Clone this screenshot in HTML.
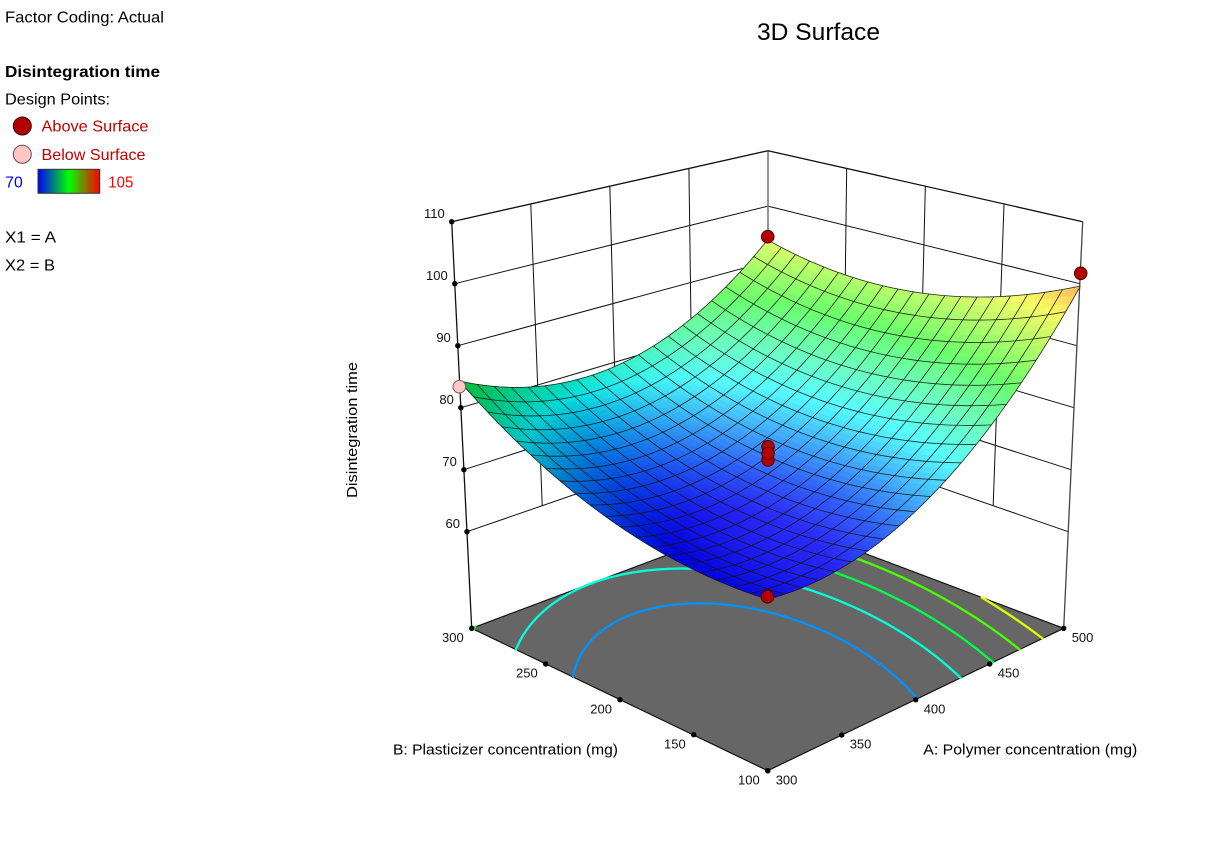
<!DOCTYPE html>
<html><head><meta charset="utf-8">
<style>
html,body{margin:0;padding:0;background:#fff;width:1228px;height:864px;overflow:hidden;}
svg{display:block;font-family:"Liberation Sans",Arial,sans-serif;}
</style></head><body>
<svg id="c" width="1228" height="864" viewBox="0 0 1228 864" xmlns="http://www.w3.org/2000/svg">
<defs>
<linearGradient id="lg" x1="0" y1="0" x2="1" y2="0">
<stop offset="0" stop-color="#0000ff"/><stop offset="0.5" stop-color="#00ff00"/><stop offset="1" stop-color="#ff0000"/>
</linearGradient>
</defs>
<rect width="1228" height="864" fill="#fff"/>
<text x="5" y="22.3" font-size="16" textLength="159" lengthAdjust="spacingAndGlyphs">Factor Coding: Actual</text>
<text x="5" y="77" font-size="16" font-weight="bold" textLength="155" lengthAdjust="spacingAndGlyphs">Disintegration time</text>
<text x="5" y="104.3" font-size="16" textLength="105" lengthAdjust="spacingAndGlyphs">Design Points:</text>
<circle cx="22.3" cy="126" r="9" fill="#b00000" stroke="#3a0000" stroke-width="1"/>
<text x="41.5" y="131.7" font-size="16" fill="#c00000" textLength="107" lengthAdjust="spacingAndGlyphs">Above Surface</text>
<circle cx="22.3" cy="154.3" r="9" fill="#ffc6c6" stroke="#6b4b4b" stroke-width="1"/>
<text x="41.5" y="160" font-size="16" fill="#c00000" textLength="104" lengthAdjust="spacingAndGlyphs">Below Surface</text>
<text x="5.3" y="187.3" font-size="16" fill="#0000ff" textLength="17.5" lengthAdjust="spacingAndGlyphs">70</text>
<rect x="38" y="169.3" width="61.7" height="24" fill="url(#lg)" stroke="#333" stroke-width="1"/>
<text x="108.3" y="187.3" font-size="16" fill="#ff0000" textLength="25" lengthAdjust="spacingAndGlyphs">105</text>
<text x="5" y="242.7" font-size="16" textLength="51" lengthAdjust="spacingAndGlyphs">X1 = A</text>
<text x="5" y="270.7" font-size="16" textLength="50" lengthAdjust="spacingAndGlyphs">X2 = B</text>

<text x="757" y="40" font-size="24" textLength="123" lengthAdjust="spacingAndGlyphs">3D Surface</text>
<text transform="translate(357,430) rotate(-90)" x="0" y="0" font-size="14.5" text-anchor="middle" textLength="136" lengthAdjust="spacingAndGlyphs">Disintegration time</text>
<text x="393" y="754.5" font-size="14.5" textLength="225" lengthAdjust="spacingAndGlyphs">B: Plasticizer concentration (mg)</text>
<text x="923.3" y="754.5" font-size="14.5" textLength="214" lengthAdjust="spacingAndGlyphs">A: Polymer concentration (mg)</text>

<g id="gWalls"></g>
<g id="gFloor"></g>
<g id="gCont"></g>
<g id="gSurf"></g>
<g id="gMesh"></g>
<g id="gAxes"></g>
<g id="gLab" font-size="13"></g>
<g id="gPts"></g>
</svg>
<script>
(function(){
var NS="http://www.w3.org/2000/svg";
function G(id){return document.getElementById(id);}
function el(tag,attrs,parent){var e=document.createElementNS(NS,tag);for(var k in attrs)e.setAttribute(k,attrs[k]);parent.appendChild(e);return e;}
function P(a,b,z){var s=(a-b)/2,t=(a+b)/2,Z=(z-44.4)/65.6;var d=1+0.1224*t-0.0632*Z;return [767.6+296*s/d,628.3-(125*t+380.9*Z)/d,d];}
function f(a,b){return 73.2+9.85*a+2.41*b-5.15*a*b+9.4*a*a+5.0*b*b;}
function hsv(h){h=((h%360)+360)%360;var x=1-Math.abs((h/60)%2-1),r,g,b;
 if(h<60){r=1;g=x;b=0}else if(h<120){r=x;g=1;b=0}else if(h<180){r=0;g=1;b=x}else if(h<240){r=0;g=x;b=1}else{r=x;g=0;b=1}
 return [r*255,g*255,b*255];}
function cmap(z){var t=(z-70)/35;t=Math.max(0,Math.min(1,t));return hsv(240*(1-t));}
function rgb(c){return "rgb("+Math.round(c[0])+","+Math.round(c[1])+","+Math.round(c[2])+")";}
function cl(v,a,b){return Math.max(a,Math.min(b,v));}
function pt(p){return p[0].toFixed(2)+","+p[1].toFixed(2);}

/* ---------- walls ---------- */
var gW=G("gWalls");
function yL(z){return 531.7-6.2*(z-60);}
function xL(z){return 471.7-(628.3-yL(z))*20/406.6;}
function xR(z){return 1063.7+(628.3-yL(z))*19/406.6;}
function yB(z){return 150.7+5.54*(110-z);}
var z;
for(z=60;z<=100;z+=10){
 el("line",{x1:xL(z),y1:yL(z),x2:768,y2:yB(z),stroke:"#111","stroke-width":1},gW);
 el("line",{x1:768,y1:yB(z),x2:xR(z),y2:yL(z),stroke:"#111","stroke-width":1},gW);
}
[0.25,0.5,0.75].forEach(function(fr){
 var tx=xL(110)+(768-xL(110))*fr, ty=yL(110)+(yB(110)-yL(110))*fr;
 var bx=xL(60)+(768-xL(60))*fr, by=yL(60)+(yB(60)-yL(60))*fr;
 el("line",{x1:tx,y1:ty,x2:bx,y2:by,stroke:"#111","stroke-width":1},gW);
 tx=768+(xR(110)-768)*fr; ty=yB(110)+(yL(110)-yB(110))*fr;
 bx=768+(xR(60)-768)*fr; by=yB(60)+(yL(60)-yB(60))*fr;
 el("line",{x1:tx,y1:ty,x2:bx,y2:by,stroke:"#111","stroke-width":1},gW);
});
el("line",{x1:768,y1:150.7,x2:768,y2:517,stroke:"#808080","stroke-width":1.7},gW);
el("line",{x1:451.7,y1:221.7,x2:768,y2:150.7,stroke:"#111","stroke-width":1.3},gW);
el("line",{x1:768,y1:150.7,x2:1082.7,y2:221.7,stroke:"#111","stroke-width":1.3},gW);

/* ---------- floor ---------- */
var gF=G("gFloor");
el("polygon",{points:"471.7,628.3 767.7,770.7 1063.7,628.3 768,517",fill:"#666666",stroke:"#111","stroke-width":1.2,"stroke-linejoin":"round"},gF);

/* ---------- contours ---------- */
var gC=G("gCont");
var M=140;
function fp(a,b){return pt(P(a,b,44.4));}
[75,80,85,90,95].forEach(function(L){
 var d="",i,j,k;
 for(i=0;i<M;i++)for(j=0;j<M;j++){
  var a0=-1+2*i/M,a1=-1+2*(i+1)/M,b0=-1+2*j/M,b1=-1+2*(j+1)/M;
  var v=[f(a0,b0)-L,f(a1,b0)-L,f(a1,b1)-L,f(a0,b1)-L];
  var c=[[a0,b0],[a1,b0],[a1,b1],[a0,b1]];
  var ps=[];
  for(k=0;k<4;k++){var k2=(k+1)%4;if((v[k]<0)!==(v[k2]<0)){var t=v[k]/(v[k]-v[k2]);ps.push([c[k][0]+t*(c[k2][0]-c[k][0]),c[k][1]+t*(c[k2][1]-c[k][1])]);}}
  if(ps.length===2)d+="M"+fp(ps[0][0],ps[0][1])+"L"+fp(ps[1][0],ps[1][1]);
  else if(ps.length===4)d+="M"+fp(ps[0][0],ps[0][1])+"L"+fp(ps[1][0],ps[1][1])+"M"+fp(ps[2][0],ps[2][1])+"L"+fp(ps[3][0],ps[3][1]);
 }
 if(d)el("path",{d:d,stroke:rgb(cmap(L)),"stroke-width":2.3,fill:"none","stroke-linecap":"round"},gC);
});

/* ---------- surface ---------- */
var gS=G("gSurf");
var Lx=-0.5,Ly=0,Lz=0.85,Ll=Math.sqrt(Lx*Lx+Ly*Ly+Lz*Lz);Lx/=Ll;Ly/=Ll;Lz/=Ll;
function color(a,b){
 var zz=f(a,b);var fa=9.85-5.15*b+18.8*a,fb=2.41-5.15*a+10*b;
 var nx=-fa/32.8,ny=-fb/32.8,nz=1,nl=Math.sqrt(nx*nx+ny*ny+nz*nz);
 var diff=(nx*Lx+ny*Ly+nz*Lz)/nl;
 var kk=0.72+0.28*cl((diff-0.5)/0.5,0,1);
 var w=cl((diff-0.75)*2,0,0.42);
 w*=0.45+0.55*cl((zz-72)/10,0,1);
 var base=cmap(zz);
 return [base[0]*kk*(1-w)+255*w,base[1]*kk*(1-w)+255*w,base[2]*kk*(1-w)+255*w];
}
var N=20,S=3,T=N*S,quads=[],i,j;
for(i=0;i<T;i++)for(j=0;j<T;j++){
 var a0=-1+2*i/T,a1=-1+2*(i+1)/T,b0=-1+2*j/T,b1=-1+2*(j+1)/T;
 var p1=P(a0,b0,f(a0,b0)),p2=P(a1,b0,f(a1,b0)),p3=P(a1,b1,f(a1,b1)),p4=P(a0,b1,f(a0,b1));
 var col=rgb(color((a0+a1)/2,(b0+b1)/2));
 quads.push({d:(p1[2]+p2[2]+p3[2]+p4[2])/4,pts:pt(p1)+" "+pt(p2)+" "+pt(p3)+" "+pt(p4),c:col});
}
quads.sort(function(p,q){return q.d-p.d;});
quads.forEach(function(q){el("polygon",{points:q.pts,fill:q.c,stroke:q.c,"stroke-width":0.6,"stroke-linejoin":"round"},gS);});

/* ---------- mesh ---------- */
var gM=G("gMesh");
var STEPS=60;
for(i=0;i<=N;i++){
 var a=-1+2*i/N,s1=[],s2=[];
 for(j=0;j<=STEPS;j++){var b=-1+2*j/STEPS;s1.push(pt(P(a,b,f(a,b))));s2.push(pt(P(b,a,f(b,a))));}
 el("polyline",{points:s1.join(" "),fill:"none",stroke:"#151515","stroke-width":0.8,"stroke-opacity":0.9},gM);
 el("polyline",{points:s2.join(" "),fill:"none",stroke:"#151515","stroke-width":0.8,"stroke-opacity":0.9},gM);
}

/* ---------- axes ---------- */
var gA=G("gAxes"),gL=G("gLab");
el("line",{x1:471.7,y1:628.3,x2:451.7,y2:221.7,stroke:"#111","stroke-width":1.3},gA);
el("line",{x1:1063.7,y1:628.3,x2:1082.7,y2:221.7,stroke:"#444","stroke-width":1.3},gA);
function dot(x,y){el("circle",{cx:x,cy:y,r:2.7,fill:"#000"},gA);}
function lab(x,y,txt,anchor){var t=el("text",{x:x,y:y,"text-anchor":anchor,fill:"#111"},gL);t.textContent=txt;}
for(z=60;z<=110;z+=10){dot(xL(z),yL(z));lab(xL(z)-7,yL(z)-3.8,String(z),"end");}
var Bt=[[471.7,628.3,"300"],[545.7,664,"250"],[620,699.7,"200"],[693.7,734.7,"150"],[767.7,770.7,"100"]];
Bt.forEach(function(q){dot(q[0],q[1]);lab(q[0]-8,q[1]+13.7,q[2],"end");});
var At=[[767.7,770.7,"300"],[841.7,735,"350"],[915.7,699.7,"400"],[989.7,664,"450"],[1063.7,628.3,"500"]];
At.forEach(function(q){dot(q[0],q[1]);lab(q[0]+8,q[1]+13.7,q[2],"start");});

/* ---------- design points ---------- */
var gP=G("gPts");
function rp(x,y){el("circle",{cx:x,cy:y,r:6.3,fill:"#b30000",stroke:"#4a0000","stroke-width":1},gP);}
el("circle",{cx:459.3,cy:386.7,r:6.3,fill:"#ffc8c8",stroke:"#7a5a5a","stroke-width":1},gP);
rp(767.7,236.7);rp(1080.7,273.3);rp(767.5,596.7);
rp(768,446.7);rp(768,460);rp(768,453.3);
})();
</script>
</body></html>
